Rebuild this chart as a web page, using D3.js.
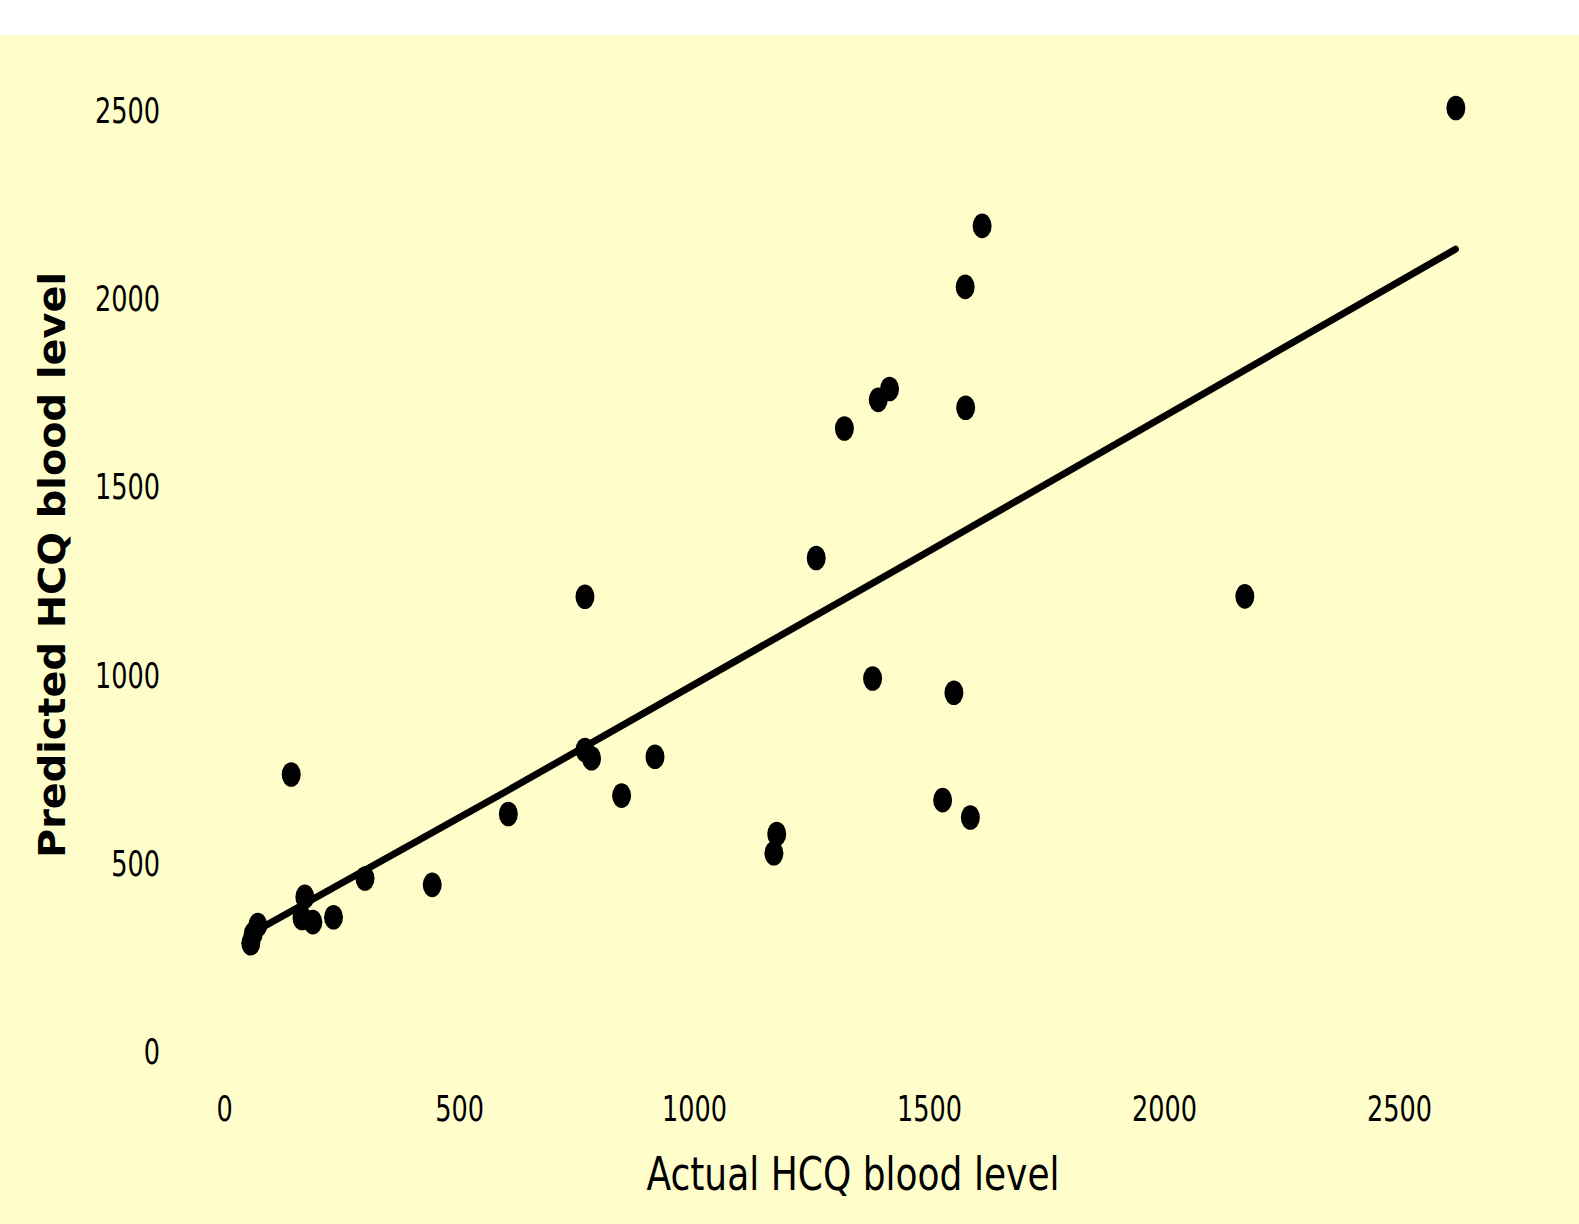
<!DOCTYPE html>
<html>
<head>
<meta charset="utf-8">
<script src="https://cdn.jsdelivr.net/npm/d3@7"></script>
<style>
  html, body { margin: 0; padding: 0; background: #ffffff; }
  svg { display: block; }
</style>
</head>
<body>
<svg id="chart" width="1579" height="1224"></svg>
<script>
// ---- data ----
const actualLevels = [2621, 1613, 1577, 1416, 1392, 1578, 1320, 1260, 768, 2172,
  1380, 1553, 143, 768, 782, 917, 846, 605, 1529, 1588,
  1176, 1170, 300, 443, 172, 233, 166, 189, 72, 62, 57];
const predictedLevels = [2503, 2190, 2028, 1757, 1728, 1707, 1652, 1308, 1205, 1206,
  988, 950, 733, 798, 776, 780, 677, 628, 665, 619,
  575, 524, 457, 440, 408, 354, 352, 341, 333, 309, 285];
const fitLineX = [60, 600, 1480, 2620];
const fitLineY = [312, 688, 1312, 2128];
const xTickValues = [0, 500, 1000, 1500, 2000, 2500];
const yTickValues = [0, 500, 1000, 1500, 2000, 2500];
const xAxisTitle = "Actual HCQ blood level";
const yAxisTitle = "Predicted HCQ blood level";

const points = actualLevels.map((a, i) => ({ x: a, y: predictedLevels[i] }));
const linePts = fitLineX.map((a, i) => ({ x: a, y: fitLineY[i] }));

// ---- layout ----
const W = 1579, H = 1224;
const svg = d3.select("#chart");
const bg = "#FFFECB";
const ink = "#000000";
const FONT = "DejaVu Sans, sans-serif";
const STRETCH = 1.3;     // the figure is vertically stretched
const CAP = 0.729;       // cap/digit height ratio of the font

svg.append("rect").attr("x", 0).attr("y", 35).attr("width", W).attr("height", H - 35).attr("fill", bg);

const x = d3.scaleLinear().domain([0, 2500]).range([224, 1399]);
const y = d3.scaleLinear().domain([0, 2500]).range([1050.5, 109.2]);

// measuring helper
function measure(str, size, weight) {
  const t = svg.append("text").attr("font-family", FONT).attr("font-size", size)
    .attr("font-weight", weight || "normal").text(str);
  const w = t.node().getComputedTextLength();
  t.remove();
  return w;
}

// ---- tick labels ----
const tickCap = 26.5;
const tickSize = tickCap / (CAP * STRETCH);
const tickSx = 65 / measure("2500", tickSize);

function styleTicks(g, anchor) {
  g.select(".domain").remove();
  g.selectAll(".tick line").remove();
  g.selectAll(".tick text")
    .attr("font-family", FONT)
    .attr("font-size", tickSize)
    .attr("fill", ink)
    .attr("text-anchor", anchor)
    .attr("x", 0).attr("y", 0).attr("dy", null)
    .attr("transform", `translate(0,${(tickCap / 2).toFixed(2)}) scale(${tickSx},${STRETCH})`);
}

svg.append("g")
  .attr("transform", "translate(160,0)")
  .call(d3.axisLeft(y).tickValues(yTickValues).tickSize(0).tickFormat(d3.format("d")))
  .call(g => styleTicks(g, "end"));

svg.append("g")
  .attr("transform", "translate(0,1108)")
  .call(d3.axisBottom(x).tickValues(xTickValues).tickSize(0).tickFormat(d3.format("d")))
  .call(g => styleTicks(g, "middle"));

// ---- axis titles ----
const xCap = 33.3;
const xSize = xCap / (CAP * STRETCH);
const xSx = 413 / measure(xAxisTitle, xSize);
svg.append("text")
  .attr("font-family", FONT).attr("font-size", xSize).attr("fill", ink)
  .attr("text-anchor", "middle")
  .attr("transform", `translate(853,1190) scale(${xSx},${STRETCH})`)
  .text(xAxisTitle);

const yAsc = 28;
const ySize = yAsc / 0.76;
const ySx = 586 / measure(yAxisTitle, ySize, "bold");
svg.append("text")
  .attr("font-family", FONT).attr("font-size", ySize).attr("font-weight", "bold").attr("fill", ink)
  .attr("text-anchor", "middle")
  .attr("transform", `translate(65,565) rotate(-90) scale(${ySx},1)`)
  .text(yAxisTitle);

// ---- fit line ----
svg.append("path")
  .datum(linePts)
  .attr("fill", "none")
  .attr("stroke", ink)
  .attr("stroke-width", 7)
  .attr("stroke-linecap", "round")
  .attr("stroke-linejoin", "round")
  .attr("d", d3.line().x(d => x(d.x)).y(d => y(d.y)));

// ---- points ----
svg.append("g")
  .selectAll("ellipse")
  .data(points)
  .join("ellipse")
  .attr("cx", d => x(d.x))
  .attr("cy", d => y(d.y))
  .attr("rx", 9.5)
  .attr("ry", 12.3)
  .attr("fill", ink);
</script>
</body>
</html>
